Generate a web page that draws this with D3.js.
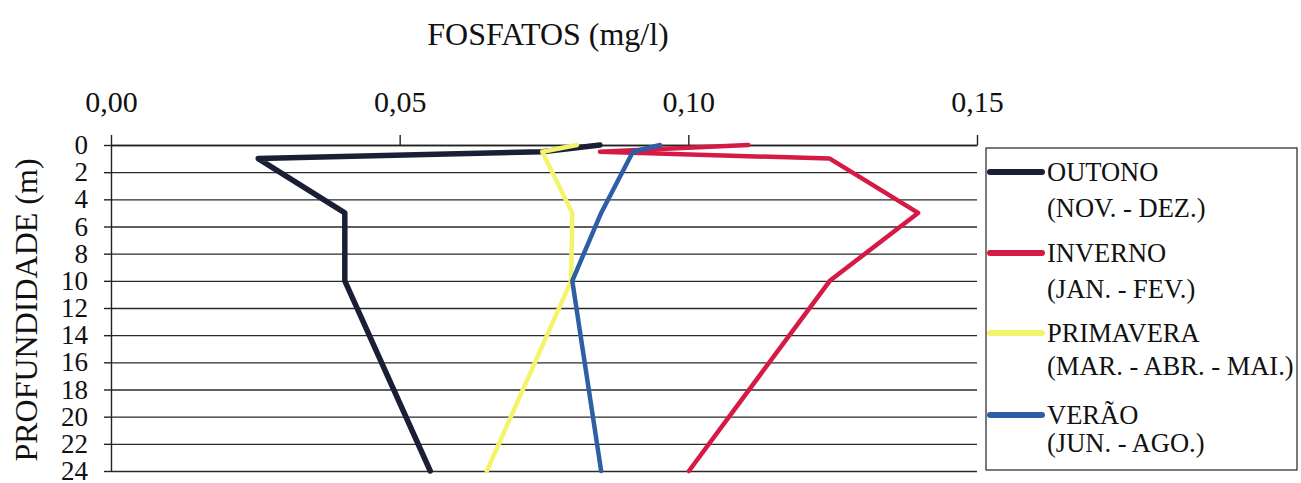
<!DOCTYPE html>
<html><head><meta charset="utf-8">
<script src="https://cdn.jsdelivr.net/npm/d3@7"></script>
<style>
body{margin:0;background:#fff;}
svg{display:block;font-family:"Liberation Serif","Times New Roman",serif;}
</style></head>
<body>
<svg id="c" width="1301" height="483"></svg>
<script>
// Data
const depths = [0, 0.5, 1, 5, 10, 24];
const outono = [0.0847, 0.0747, 0.0255, 0.0405, 0.0405, 0.0553];
const inverno = [0.1104, 0.0847, 0.1245, 0.1398, 0.1245, 0.1001];
const primavera = [0.0807, 0.0747, null, 0.0799, 0.0797, 0.0651];
const verao = [0.0951, 0.0904, null, 0.0849, 0.0799, 0.0849];
const seriesNames = ["OUTONO", "INVERNO", "PRIMAVERA", "VERÃO"];
const seriesSub = ["(NOV. - DEZ.)", "(JAN. - FEV.)", "(MAR. - ABR. - MAI.)", "(JUN. - AGO.)"];
const seriesColors = ["#1b1f35", "#d41a45", "#f4f46c", "#2d5ea6"];
const xTicks = [0, 0.05, 0.10, 0.15];
const yTicks = [0, 2, 4, 6, 8, 10, 12, 14, 16, 18, 20, 22, 24];
const allSeries = [outono, inverno, primavera, verao];

const svg = d3.select("#c");
const L = 111, R = 977, T = 145, B = 471;
const x = d3.scaleLinear().domain([0, 0.15]).range([L, R]);
const y = d3.scaleLinear().domain([0, 24]).range([T, B]);

// Gridlines
svg.append("g").attr("transform", `translate(${L},0)`)
  .call(d3.axisLeft(y).tickValues(yTicks).tickSize(-(R - L)).tickFormat(""))
  .call(g => g.select(".domain").remove())
  .call(g => g.selectAll("line").attr("stroke", "#2a2a2a").attr("stroke-width", 1.4));

// Y axis
const ya = svg.append("g").attr("transform", `translate(${L},0)`)
  .call(d3.axisLeft(y).tickValues(yTicks).tickSize(7).tickSizeOuter(0).tickPadding(16));
ya.select(".domain").attr("stroke", "#222").attr("stroke-width", 1.4);
ya.selectAll("line").attr("stroke", "#222").attr("stroke-width", 1.4);
ya.selectAll("text").attr("font-size", 27).attr("fill", "#111")
  .attr("font-family", "Liberation Serif");

// X axis (top)
const fmt = d => d.toFixed(2).replace(".", ",");
const xa = svg.append("g").attr("transform", `translate(0,${T})`)
  .call(d3.axisTop(x).tickValues(xTicks).tickSize(10).tickSizeOuter(0).tickPadding(23).tickFormat(fmt));
xa.select(".domain").attr("stroke", "#222").attr("stroke-width", 1.4);
xa.selectAll("line").attr("stroke", "#222").attr("stroke-width", 1.4);
xa.selectAll("text").attr("font-size", 30).attr("fill", "#111")
  .attr("font-family", "Liberation Serif");

// Lines
const line = d3.line().x(d => x(d[1])).y(d => y(d[0]));
allSeries.forEach((vals, i) => {
  const pts = depths.map((d, j) => [d, vals[j]]).filter(p => p[1] !== null);
  svg.append("path").datum(pts)
    .attr("d", line)
    .attr("fill", "none")
    .attr("stroke", seriesColors[i])
    .attr("stroke-width", i === 0 ? 5.5 : 4.5)
    .attr("stroke-linejoin", "round")
    .attr("stroke-linecap", "round");
});

// Titles
svg.append("text").attr("x", 548).attr("y", 45).attr("text-anchor", "middle")
  .attr("font-size", 32).attr("fill", "#111").text("FOSFATOS (mg/l)");
svg.append("text").attr("transform", `translate(37,${(T + B) / 2 + 2}) rotate(-90)`)
  .attr("text-anchor", "middle").attr("font-size", 32).attr("fill", "#111")
  .text("PROFUNDIDADE (m)");

// Legend
const lg = svg.append("g");
lg.append("rect").attr("x", 986).attr("y", 148).attr("width", 311).attr("height", 322)
  .attr("fill", "none").attr("stroke", "#222").attr("stroke-width", 1.2);
const lgY = [172, 253, 333, 415];
const lgSubY = [217, 298, 375, 452];
seriesNames.forEach((n, i) => {
  lg.append("line").attr("x1", 990).attr("x2", 1042).attr("y1", lgY[i]).attr("y2", lgY[i])
    .attr("stroke", seriesColors[i]).attr("stroke-width", 6).attr("stroke-linecap", "round");
  lg.append("text").attr("x", 1047).attr("y", lgY[i] + 9).attr("font-size", 26.5).attr("fill", "#111").text(n);
  lg.append("text").attr("x", 1047).attr("y", lgSubY[i]).attr("font-size", 26.5).attr("fill", "#111").text(seriesSub[i]);
});
</script>
</body></html>
